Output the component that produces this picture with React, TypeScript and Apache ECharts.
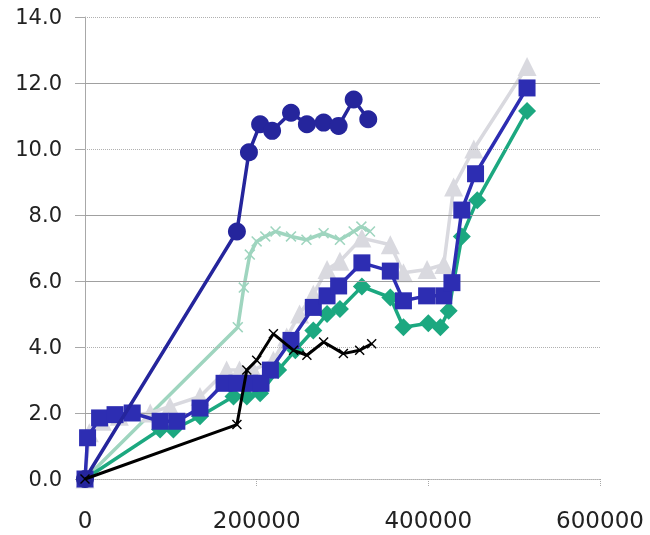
import React, { useEffect, useRef } from "react";
import * as echarts from "echarts";

const circleSeries: [number, number][] = [
  [0, 0], [177000, 7.5], [191000, 9.9], [204000, 10.75], [218000, 10.55], [240000, 11.1],
  [258500, 10.75], [278000, 10.8], [295500, 10.7], [313000, 11.5], [330000, 10.9],
];
const tealSeries: [number, number][] = [
  [0, 0], [178000, 4.6], [185000, 5.8], [192000, 6.8], [200000, 7.2], [210000, 7.35],
  [222000, 7.5], [240000, 7.35], [258000, 7.25], [278000, 7.45], [297000, 7.25],
  [313000, 7.5], [322000, 7.65], [332000, 7.5],
];
const triangleSeries: [number, number][] = [
  [0, 0], [5000, 1.4], [20000, 1.75], [40000, 1.9], [76000, 2.0], [99000, 2.2],
  [134000, 2.5], [165000, 3.3], [180000, 3.3], [196000, 3.3], [219500, 3.6], [235000, 4.3],
  [250000, 5.0], [266000, 5.6], [282000, 6.35], [297000, 6.6], [322600, 7.3],
  [355700, 7.1], [371000, 6.25], [398500, 6.35], [418000, 6.5], [429500, 8.85],
  [453000, 10.0], [515000, 12.5],
];
const squareSeries: [number, number][] = [
  [0, 0], [3000, 1.25], [17000, 1.85], [35000, 1.95], [55000, 2.0], [87500, 1.75],
  [107000, 1.75], [134000, 2.15], [162000, 2.9], [177000, 2.9], [192000, 2.9],
  [205000, 2.9], [216000, 3.3], [240000, 4.2], [266000, 5.2], [282000, 5.55],
  [295500, 5.85], [322600, 6.55], [355700, 6.3], [371000, 5.4], [398000, 5.55],
  [418000, 5.55], [427500, 5.95], [439000, 8.15], [455000, 9.25], [515000, 11.85],
];
const diamondSeries: [number, number][] = [
  [0, 0], [87500, 1.5], [103000, 1.5], [134000, 1.9], [173000, 2.5], [188500, 2.5],
  [204000, 2.6], [225000, 3.3], [245000, 3.9], [266000, 4.5], [282000, 5.0],
  [297000, 5.15], [322600, 5.83], [355700, 5.5], [371000, 4.6], [400000, 4.72],
  [414000, 4.6], [423700, 5.1], [439000, 7.35], [457000, 8.45], [515000, 11.15],
];
const blackSeries: [number, number][] = [
  [0, 0], [177000, 1.65], [188500, 3.3], [200000, 3.6], [219500, 4.4], [243000, 3.9],
  [258500, 3.75], [278000, 4.15], [301000, 3.8], [320000, 3.9], [334000, 4.1],
];
const solidGridValues = [2, 6, 8, 12];
const dottedGridValues = [0, 4, 10, 14];

const crossPath =
  "path://M0,1L1,0L5,4L9,0L10,1L6,5L10,9L9,10L5,6L1,10L0,9L4,5Z";

export default function App() {
  const ref = useRef<HTMLDivElement>(null);
  useEffect(() => {
    if (!ref.current) return;
    const chart = echarts.init(ref.current, undefined, { renderer: "svg" });
    const mk = (
      data: [number, number][],
      color: string,
      symbol: string,
      symbolSize: number,
      width: number,
      z: number
    ) => ({
      type: "line",
      data,
      symbol,
      symbolSize,
      showAllSymbol: true,
      z,
      lineStyle: { color, width },
      itemStyle: { color, borderWidth: 0 },
      emphasis: { disabled: true },
    });
    chart.setOption({
      animation: false,
      grid: { left: 85, right: 50, top: 17, bottom: 56, containLabel: false },
      xAxis: {
        type: "value",
        min: 0,
        max: 600000,
        interval: 200000,
        axisLine: { show: true, lineStyle: { color: "#a8a8a8", type: "dotted", width: 1 } },
        axisTick: { show: true, length: 8, lineStyle: { color: "#a8a8a8", type: "dotted" } },
        splitLine: { show: false },
        axisLabel: {
          margin: 29,
          fontSize: 23,
          fontFamily: "DejaVu Sans",
          color: "#222",
          formatter: (v: number) => String(v),
        },
      },
      yAxis: {
        type: "value",
        min: 0,
        max: 14,
        interval: 2,
        axisLine: { show: true, onZero: false, lineStyle: { color: "#a8a8a8", width: 1 } },
        axisTick: { show: true, length: 10, lineStyle: { color: "#a8a8a8" } },
        splitLine: { show: false },
        axisLabel: {
          margin: 23,
          fontSize: 21,
          fontFamily: "DejaVu Sans",
          color: "#222",
          formatter: (v: number) => v.toFixed(1),
        },
      },
      series: [
        {
          type: "line",
          data: [],
          z: 1,
          silent: true,
          markLine: {
            silent: true,
            symbol: "none",
            label: { show: false },
            animation: false,
            data: [
              ...solidGridValues.map((v) => ({
                yAxis: v,
                lineStyle: { color: "#a0a0a0", width: 1, type: "solid" },
              })),
              ...dottedGridValues.map((v) => ({
                yAxis: v,
                lineStyle: { color: "#b0b0b0", width: 1, type: "dotted" },
              })),
            ],
          },
        },
        mk(tealSeries, "#9fd5bf", crossPath, 11, 3.5, 2),
        mk(triangleSeries, "#d9d9df", "triangle", 19, 3.5, 3),
        mk(diamondSeries, "#1ca880", "diamond", 18, 3.5, 4),
        mk(squareSeries, "#2d2db2", "rect", 17, 3.5, 5),
        mk(circleSeries, "#25259c", "circle", 18, 3.5, 6),
        mk(blackSeries, "#000000", crossPath, 10, 3, 7),
      ],
    });
    return () => chart.dispose();
  }, []);
  return (
    <div
      ref={ref}
      style={{ position: "fixed", left: 0, top: 0, width: 650, height: 535 }}
    />
  );
}
